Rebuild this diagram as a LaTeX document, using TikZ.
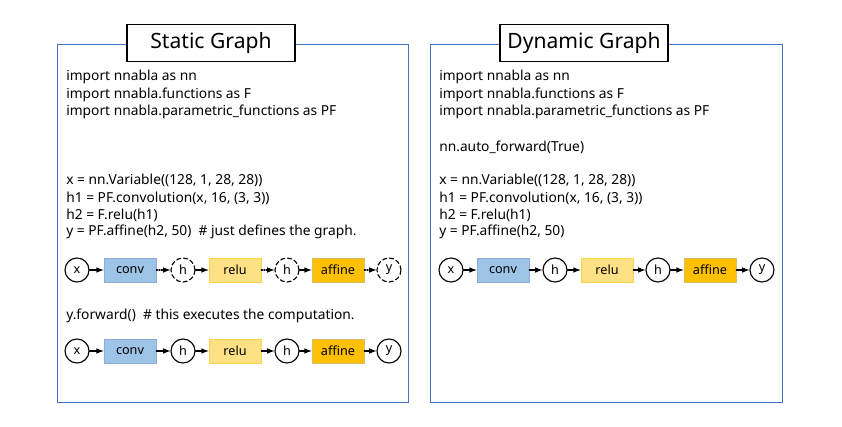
\documentclass[tikz,border=0pt]{standalone}
\usepackage{fontspec}
\setmainfont{Noto Sans}
\definecolor{frameblue}{HTML}{4472C4}
\definecolor{convfill}{HTML}{9DC3E6}
\definecolor{convline}{HTML}{8FAADC}
\definecolor{relufill}{HTML}{FFD966}
\definecolor{reluline}{HTML}{FFC000}
\definecolor{affinefill}{HTML}{FFC000}
\definecolor{affineline}{HTML}{BF9000}
\begin{document}
\begin{tikzpicture}[x=0.025cm,y=-0.025cm,line cap=round,
  var/.style={circle,draw,thick,inner sep=0pt,minimum size=0.6cm,font=\fontsize{9}{10}\selectfont},
  dvar/.style={var,densely dashed},
  fn/.style={rectangle,minimum width=1.3cm,minimum height=0.6cm,inner sep=0pt,font=\fontsize{9}{10}\selectfont},
  conv/.style={fn,fill=convfill,draw=convline},
  relu/.style={fn,fill=relufill!80,draw=reluline!70},
  affine/.style={fn,fill=affinefill,draw=affineline!60},
  code/.style={anchor=west,inner sep=0pt,font=\fontsize{9.8}{11}\selectfont},
  title/.style={draw,thick,fill=white,minimum width=4.2cm,minimum height=0.92cm,font=\fontsize{15}{17}\selectfont},
  arr/.style={-latex,thick},
  darr/.style={arr,densely dotted}]
  \useasboundingbox (0,0) rectangle (842,427);
  %% frames
  \draw[frameblue] (57,44) rectangle (408,402);
  \draw[frameblue] (430,44) rectangle (782,402);
  \node[title] (ts) at (211,43) {Static Graph};
  \node[title] (td) at (584,43) {Dynamic Graph};
  %% static code
  \node[code] (s1) at (66,77)  {import nnabla as nn};
  \node[code] (s2) at (66,95)  {import nnabla.functions as F};
  \node[code] (s3) at (66,112) {import nnabla.parametric\_functions as PF};
  \node[code] (s4) at (66,180) {x = nn.Variable((128, 1, 28, 28))};
  \node[code] (s5) at (66,198) {h1 = PF.convolution(x, 16, (3, 3))};
  \node[code] (s6) at (66,215) {h2 = F.relu(h1)};
  \node[code] (s7) at (66,232) {y = PF.affine(h2, 50)\ \ \# just defines the graph.};
  \node[code] (s8) at (66,316) {y.forward()\ \ \# this executes the computation.};
  %% static graph, defined only
  \node[var]    (ax) at (77,270)  {x};
  \node[conv]   (ac) at (130,270) {conv};
  \node[dvar]   (ah) at (183,270) {h};
  \node[relu]   (ar) at (235,270) {relu};
  \node[dvar]   (ag) at (287,270) {h};
  \node[affine] (aa) at (338,270) {affine};
  \node[dvar]   (ay) at (389,270) {y};
  \draw[arr]  (ax) -- (ac);
  \draw[darr] (ac) -- (ah);
  \draw[arr]  (ah) -- (ar);
  \draw[darr] (ar) -- (ag);
  \draw[arr]  (ag) -- (aa);
  \draw[darr] (aa) -- (ay);
  %% static graph, after forward
  \node[var]    (bx) at (77,351)  {x};
  \node[conv]   (bc) at (130,351) {conv};
  \node[var]    (bh) at (183,351) {h};
  \node[relu]   (br) at (235,351) {relu};
  \node[var]    (bg) at (287,351) {h};
  \node[affine] (ba) at (338,351) {affine};
  \node[var]    (by) at (389,351) {y};
  \draw[arr] (bx) -- (bc);
  \draw[arr] (bc) -- (bh);
  \draw[arr] (bh) -- (br);
  \draw[arr] (br) -- (bg);
  \draw[arr] (bg) -- (ba);
  \draw[arr] (ba) -- (by);
  %% dynamic code
  \node[code] (d1) at (439,77)  {import nnabla as nn};
  \node[code] (d2) at (439,95)  {import nnabla.functions as F};
  \node[code] (d3) at (439,112) {import nnabla.parametric\_functions as PF};
  \node[code] (d4) at (439,147) {nn.auto\_forward(True)};
  \node[code] (d5) at (439,180) {x = nn.Variable((128, 1, 28, 28))};
  \node[code] (d6) at (439,198) {h1 = PF.convolution(x, 16, (3, 3))};
  \node[code] (d7) at (439,215) {h2 = F.relu(h1)};
  \node[code] (d8) at (439,232) {y = PF.affine(h2, 50)};
  %% dynamic graph
  \node[var]    (cx) at (451,270) {x};
  \node[conv]   (cc) at (503,270) {conv};
  \node[var]    (ch) at (555,270) {h};
  \node[relu]   (cr) at (607,270) {relu};
  \node[var]    (cg) at (658,270) {h};
  \node[affine] (ca) at (710,270) {affine};
  \node[var]    (cy) at (762,270) {y};
  \draw[arr] (cx) -- (cc);
  \draw[arr] (cc) -- (ch);
  \draw[arr] (ch) -- (cr);
  \draw[arr] (cr) -- (cg);
  \draw[arr] (cg) -- (ca);
  \draw[arr] (ca) -- (cy);
\end{tikzpicture}
\end{document}
